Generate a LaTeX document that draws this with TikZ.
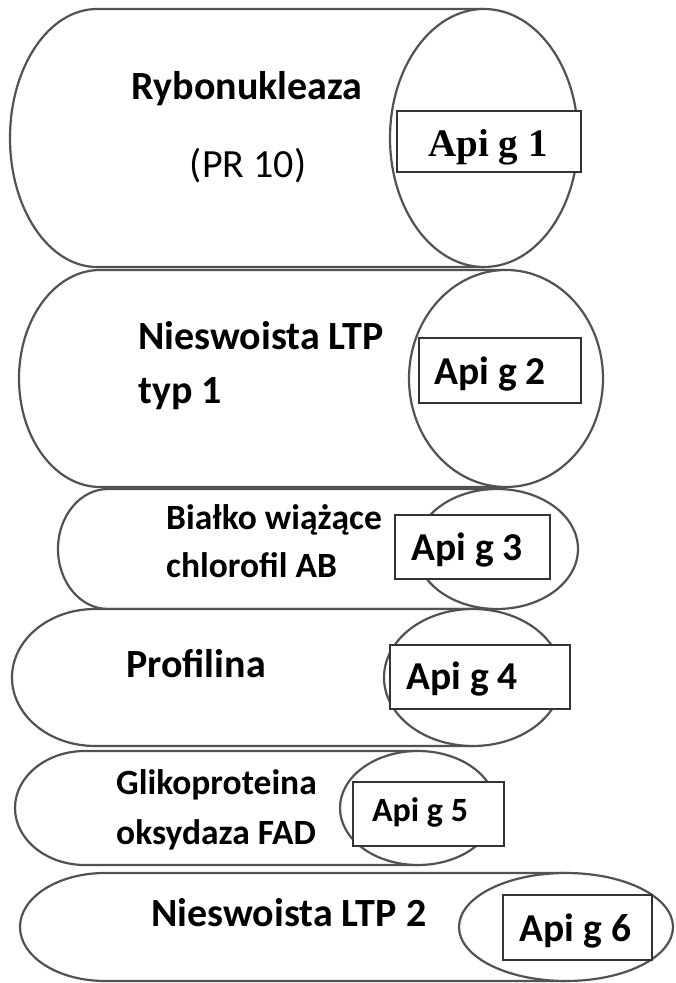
\documentclass[tikz,border=0pt]{standalone}
\usepackage{fontspec}
\setmainfont{Carlito}
\newfontfamily\serifb{Liberation Serif}
\begin{document}
\begin{tikzpicture}[x=1pt,y=1pt,
  cylline/.style={draw=black!68,line width=2.2pt,fill=white},
  apibox/.style={draw=black!80,line width=1.6pt,fill=white,inner sep=0pt},
  big/.style={font=\fontsize{40}{44}\selectfont\bfseries},
  small/.style={font=\fontsize{35.5}{40}\selectfont\bfseries},
  reg/.style={font=\fontsize{40}{44}\selectfont},
  apiser/.style={font=\fontsize{39}{42}\selectfont\serifb\bfseries},
  apisans/.style={font=\fontsize{39.5}{42}\selectfont\bfseries},
  apismall/.style={font=\fontsize{34}{38}\selectfont\bfseries}]
\newcommand\mycyl[6]{%
  \filldraw[cylline] (#3,{#5+#6}) -- (#1,{#5+#6})
     arc[start angle=90,end angle=270,x radius=#2,y radius=#6] -- (#3,{#5-#6});
  \filldraw[cylline] (#3,#5) ellipse[x radius=#4,y radius=#6];}
\useasboundingbox (0,0) rectangle (675,983);
\fill[white] (0,0) rectangle (675,983);
% cylinder 1
\mycyl{97}{87}{484}{94}{845}{129}
\node[apibox,minimum width=184pt,minimum height=61pt] (b1) at (489,841.5) {};
\node[apiser,anchor=base] (t1) at (488,826) {Api g 1};
\node[big,anchor=base] (l1a) at (247,883) {Rybonukleaza};
\node[reg,anchor=base] (l1b) at (248,805) {(PR 10)};
% cylinder 2
\mycyl{100}{81}{506}{97}{604.5}{108.5}
\node[apibox,minimum width=162pt,minimum height=65pt] (b2) at (500,612.5) {};
\node[apisans,anchor=base] (t2) at (490,598) {Api g 2};
\node[big,anchor=base west,inner sep=0pt] (l2a) at (138,633) {Nieswoista LTP};
\node[big,anchor=base west,inner sep=0pt] (l2b) at (138,579) {typ 1};
% cylinder 3
\mycyl{108}{50}{497}{81}{434}{60}
\node[apibox,minimum width=155pt,minimum height=64pt] (b3) at (472.5,436) {};
\node[apisans,anchor=base] (t3) at (467,422) {Api g 3};
\node[small,anchor=base west,inner sep=0pt] (l3a) at (166,453) {Białko wiążące};
\node[small,anchor=base west,inner sep=0pt] (l3b) at (166,405) {chlorofil AB};
% cylinder 4
\mycyl{95}{83}{473}{89}{305.5}{68.5}
\node[apibox,minimum width=180pt,minimum height=64pt] (b4) at (480,306) {};
\node[apisans,anchor=base] (t4) at (462,293) {Api g 4};
\node[big,anchor=base west,inner sep=0pt] (l4a) at (126,305) {Profilina};
% cylinder 5
\mycyl{85}{70}{418}{78}{175}{57}
\node[apibox,minimum width=151pt,minimum height=64pt] (b5) at (428.5,169) {};
\node[apismall,anchor=base] (t5) at (420,161) {Api g 5};
\node[small,anchor=base west,inner sep=0pt] (l5a) at (116,188) {Glikoproteina};
\node[small,anchor=base west,inner sep=0pt] (l5b) at (116,138) {oksydaza FAD};
% cylinder 6
\mycyl{105}{85}{566}{107}{56}{54}
\node[apibox,minimum width=149pt,minimum height=65pt] (b6) at (577.5,55.5) {};
\node[apisans,anchor=base] (t6) at (575.5,41) {Api g 6};
\node[big,anchor=base west,inner sep=0pt] (l6a) at (151,56) {Nieswoista LTP 2};
\end{tikzpicture}
\end{document}
